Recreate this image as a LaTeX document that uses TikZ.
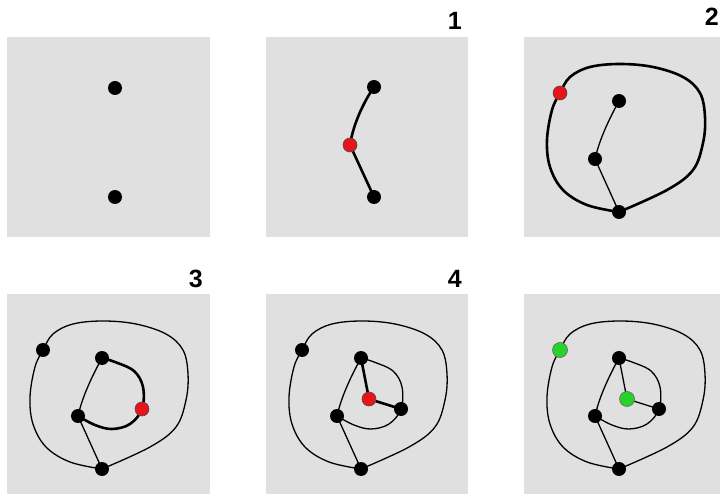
\documentclass[tikz,border=0pt]{standalone}
\usepackage{fontspec}
\setmainfont{Liberation Sans}
\definecolor{panelgray}{RGB}{224,224,224}
\definecolor{dotred}{RGB}{232,20,26}
\definecolor{dotgreen}{RGB}{40,210,40}
\tikzset{
  panel/.style={fill=panelgray,draw=none},
  thickline/.style={line width=2.6pt,line cap=round},
  thinline/.style={line width=1.3pt,line cap=round},
  blackdot/.style={circle,fill=black,inner sep=0pt,minimum size=14pt},
  reddot/.style={circle,fill=dotred,draw=black!70,line width=0.6pt,inner sep=0pt,minimum size=14pt},
  greendot/.style={circle,fill=dotgreen,draw=black!60,line width=0.6pt,inner sep=0pt,minimum size=15pt},
  lbl/.style={anchor=base east,inner sep=0pt,font=\fontsize{25}{25}\selectfont\bfseries}
}
\newcommand\graphpts[1]{%
  \coordinate (#1O) at (36,56);
  \coordinate (#1T) at (95,64);
  \coordinate (#1M) at (71,122);
  \coordinate (#1B) at (95,175);
  \coordinate (#1R) at (135,115);
  \coordinate (#1C) at (103,105);}
\newcommand\outercurve[2]{%
  \draw[#2] plot[smooth,tension=0.6] coordinates {(#1B) (143,153) (169,133) (179,106) (181,80) (176,56) (159,40) (129,30) (96,27) (66,30) (46,40) (#1O) (28,73) (23,103) (26,130) (39,153) (63,168) (#1B)};}
\newcommand\innercurve[2]{%
  \draw[#2] plot[smooth,tension=0.6] coordinates {(#1T) (108,68) (127,77) (136,93) (#1R) (123,130) (105,135) (88,131) (#1M)};}
\newcommand\leftedges[2]{%
  \draw[#2] (#1T) .. controls (84,84) and (75,104) .. (#1M);
  \draw[#2] (#1M) -- (#1B);}
\begin{document}
\begin{tikzpicture}[x=1pt,y=-1pt]
\useasboundingbox (0,0) rectangle (720,494);
% panel A
\begin{scope}[shift={(7,37)}]
  \fill[panel] (0,0) rectangle (203,200);
  \node[blackdot] (aT) at (108,51) {};
  \node[blackdot] (aB) at (108,160) {};
\end{scope}
% panel B
\begin{scope}[shift={(266,37)}]
  \fill[panel] (0,0) rectangle (202,200);
  \coordinate (bT) at (108,50);
  \coordinate (bR) at (84,108);
  \coordinate (bB) at (108,160);
  \draw[thickline] (bT) .. controls (97,66) and (87,88) .. (bR);
  \draw[thickline] (bR) -- (bB);
  \node[blackdot] (bTn) at (bT) {};
  \node[blackdot] (bBn) at (bB) {};
  \node[reddot] (bRn) at (bR) {};
\end{scope}
\node[lbl] (l1) at (462,30) {1};
% panel C
\begin{scope}[shift={(524,37)}]
  \fill[panel] (0,0) rectangle (203,200);
  \graphpts{c}
  \outercurve{c}{thickline}
  \leftedges{c}{thinline}
  \node[blackdot] (cTn) at (cT) {};
  \node[blackdot] (cMn) at (cM) {};
  \node[blackdot] (cBn) at (cB) {};
  \node[reddot] (cOn) at (cO) {};
\end{scope}
\node[lbl] (l2) at (719,26) {2};
% panel D
\begin{scope}[shift={(7,294)}]
  \fill[panel] (0,0) rectangle (203,200);
  \graphpts{d}
  \outercurve{d}{thinline}
  \leftedges{d}{thinline}
  \innercurve{d}{thickline}
  \node[blackdot] (dOn) at (dO) {};
  \node[blackdot] (dTn) at (dT) {};
  \node[blackdot] (dMn) at (dM) {};
  \node[blackdot] (dBn) at (dB) {};
  \node[reddot] (dRn) at (dR) {};
\end{scope}
\node[lbl] (l3) at (203,288) {3};
% panel E
\begin{scope}[shift={(266,294)}]
  \fill[panel] (0,0) rectangle (202,200);
  \graphpts{e}
  \outercurve{e}{thinline}
  \leftedges{e}{thinline}
  \innercurve{e}{thinline}
  \draw[thickline] (eT) -- (eC);
  \draw[thickline] (eC) -- (eR);
  \node[blackdot] (eOn) at (eO) {};
  \node[blackdot] (eTn) at (eT) {};
  \node[blackdot] (eMn) at (eM) {};
  \node[blackdot] (eBn) at (eB) {};
  \node[blackdot] (eRn) at (eR) {};
  \node[reddot] (eCn) at (eC) {};
\end{scope}
\node[lbl] (l4) at (462,288) {4};
% panel F
\begin{scope}[shift={(524,294)}]
  \fill[panel] (0,0) rectangle (203,200);
  \graphpts{f}
  \outercurve{f}{thinline}
  \leftedges{f}{thinline}
  \innercurve{f}{thinline}
  \draw[thinline] (fT) -- (fC);
  \draw[thinline] (fC) -- (fR);
  \node[blackdot] (fTn) at (fT) {};
  \node[blackdot] (fMn) at (fM) {};
  \node[blackdot] (fBn) at (fB) {};
  \node[blackdot] (fRn) at (fR) {};
  \node[greendot] (fOn) at (fO) {};
  \node[greendot] (fCn) at (fC) {};
\end{scope}
\end{tikzpicture}
\end{document}
